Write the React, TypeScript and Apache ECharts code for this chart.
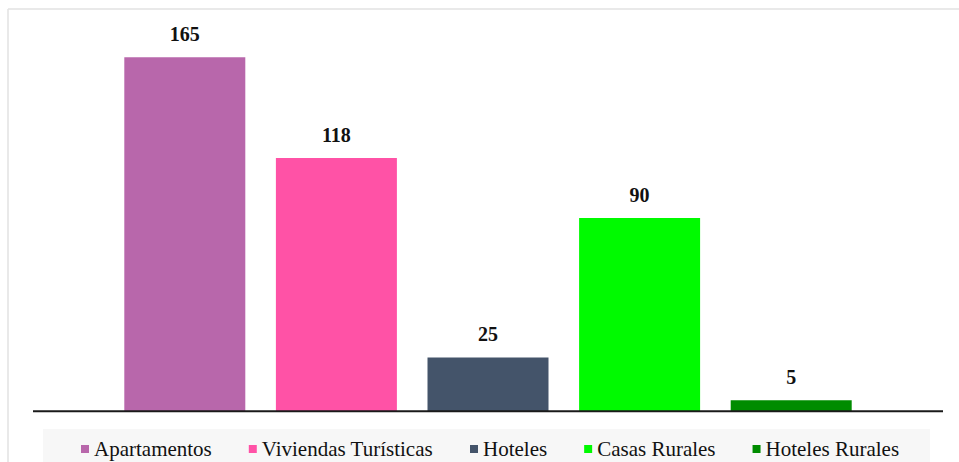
import React, { useEffect, useRef } from "react";
import * as echarts from "echarts";

// Alojamientos por tipo
const categories = ["Apartamentos", "Viviendas Turísticas", "Hoteles", "Casas Rurales", "Hoteles Rurales"];
const values = [165, 118, 25, 90, 5];
const colors = ["#b867ab", "#ff52a6", "#44546a", "#00fa00", "#008c00"];

const SERIF = "Liberation Serif";

export default function App() {
  const ref = useRef<HTMLDivElement>(null);

  useEffect(() => {
    if (!ref.current) return;
    const chart = echarts.init(ref.current, null, { renderer: "svg" });

    // one series per type so each shows up in the legend; stacked so they share a slot
    const series = categories.map((name, i) => ({
      name,
      type: "bar",
      stack: "all",
      barWidth: 121,
      itemStyle: { color: colors[i] },
      label: {
        show: true,
        position: "top",
        distance: 13,
        fontFamily: SERIF,
        fontWeight: "bold",
        fontSize: 20,
        lineHeight: 20,
        color: "#111",
      },
      data: categories.map((_, j) => (j === i ? values[i] : null)),
    }));

    chart.setOption({
      animation: false,
      backgroundColor: "#ffffff",
      grid: { left: 109, right: 92, top: 25, bottom: 51 },
      xAxis: {
        type: "category",
        data: categories,
        axisLine: { show: false },
        axisTick: { show: false },
        axisLabel: { show: false },
      },
      yAxis: {
        type: "value",
        min: 0,
        max: 180,
        show: false,
        splitLine: { show: false },
      },
      legend: {
        data: categories,
        left: 81,
        top: 437,
        padding: 0,
        icon: "rect",
        itemWidth: 8,
        itemHeight: 8,
        itemGap: 37,
        selectedMode: false,
        textStyle: {
          fontFamily: SERIF,
          fontSize: 21,
          lineHeight: 24,
          color: "#111",
        },
      },
      graphic: [
        // frame edges
        {
          type: "line",
          shape: { x1: 8, y1: 9, x2: 959, y2: 9 },
          style: { stroke: "#e2e2e2", lineWidth: 1.5 },
          silent: true,
        },
        {
          type: "line",
          shape: { x1: 8, y1: 9, x2: 8, y2: 462 },
          style: { stroke: "#e2e2e2", lineWidth: 1.5 },
          silent: true,
        },
        // legend band
        {
          type: "rect",
          shape: { x: 43, y: 429, width: 887, height: 40 },
          style: { fill: "#f7f7f7" },
          z: -10,
          silent: true,
        },
        // baseline
        {
          type: "line",
          shape: { x1: 33, y1: 411.3, x2: 943, y2: 411.3 },
          style: { stroke: "#1a1a1a", lineWidth: 2 },
          z: 100,
          silent: true,
        },
      ],
      series,
    });

    return () => chart.dispose();
  }, []);

  return (
    <div
      ref={ref}
      style={{ position: "absolute", left: 0, top: 0, width: 959, height: 462 }}
    />
  );
}
